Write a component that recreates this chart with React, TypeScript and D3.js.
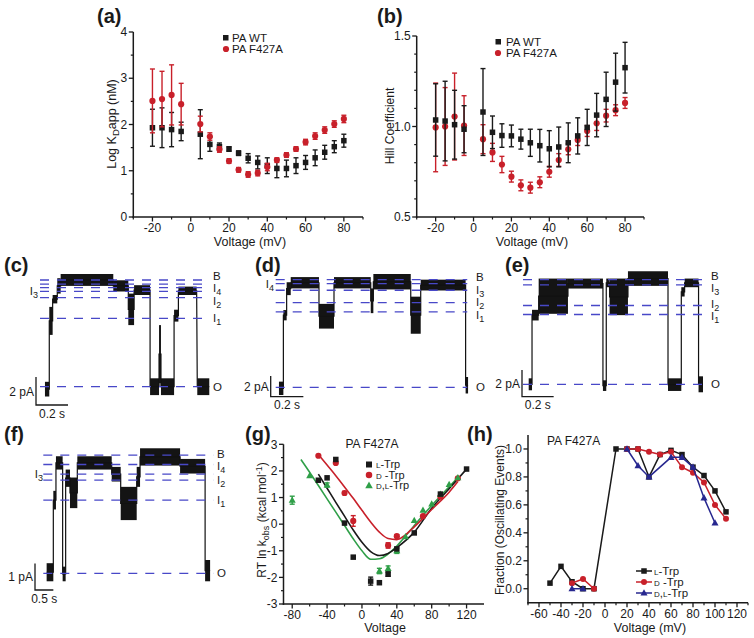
import React from 'react';
import * as d3 from 'd3';

const FONT = '"Liberation Sans", Arial, Helvetica, sans-serif';
const INK = '#1a1a1a';
const RED = '#c8202a';
const GREEN = '#2f9f48';
const NAVY = '#27278f';
const DASH = '#4848c8';

// ---- (a) / (b): voltage dependence, WT vs F427A ----
const voltAB = [-20, -15, -10, -5, 5, 10, 15, 20, 25, 30, 35, 40, 45, 50, 55, 60, 65, 70, 75, 80];
const kdWT = [1.93, 1.93, 1.89, 1.85, 1.79, 1.57, 1.52, 1.47, 1.38, 1.27, 1.18, 1.11, 1.05, 1.05, 1.11, 1.18, 1.28, 1.4, 1.52, 1.65];
const kdWTErr = [0.4, 0.43, 0.37, 0.2, 0.53, 0.15, 0.08, 0.05, 0.05, 0.1, 0.14, 0.17, 0.2, 0.18, 0.17, 0.15, 0.17, 0.15, 0.13, 0.14];
const kdMut = [2.51, 2.55, 2.64, 2.44, 2.01, 1.74, 1.46, 1.21, 1.02, 0.92, 0.95, 1.08, 1.23, 1.34, 1.47, 1.62, 1.75, 1.88, 2.01, 2.12];
const kdMutErr = [0.69, 0.6, 0.65, 0.45, 0.17, 0.08, 0.06, 0.05, 0.05, 0.06, 0.06, 0.08, 0.05, 0.05, 0.05, 0.06, 0.07, 0.07, 0.07, 0.08];
const hillWT = [1.036, 1.03, 1.01, 0.985, 1.08, 0.968, 0.95, 0.948, 0.93, 0.91, 0.894, 0.877, 0.887, 0.91, 0.948, 0.995, 1.063, 1.15, 1.245, 1.325];
const hillWTErr = [0.2, 0.22, 0.19, 0.13, 0.24, 0.09, 0.065, 0.06, 0.055, 0.075, 0.09, 0.1, 0.11, 0.11, 0.1, 0.1, 0.12, 0.15, 0.16, 0.14];
const hillMut = [0.995, 1.0, 1.055, 1.005, 0.93, 0.857, 0.79, 0.723, 0.675, 0.662, 0.692, 0.75, 0.815, 0.874, 0.925, 0.975, 1.018, 1.06, 1.09, 1.13];
const hillMutErr = [0.245, 0.215, 0.24, 0.165, 0.08, 0.05, 0.045, 0.03, 0.03, 0.03, 0.03, 0.03, 0.035, 0.03, 0.03, 0.03, 0.04, 0.035, 0.03, 0.03];

// ---- (c)-(f): single channel traces, segments [t0 (s), t1 (s), low (pA), high (pA)] ----
const traceC = [
  [0.031, 0.058, -0.7, 0.35], [0.058, 0.079, 3.7, 5.7], [0.079, 0.108, 5.95, 6.55], [0.108, 0.129, 6.65, 7.75],
  [0.129, 0.458, 7.2, 8.05], [0.458, 0.552, 6.8, 7.6], [0.552, 0.588, 4.4, 6.65], [0.588, 0.688, 6.55, 7.25],
  [0.688, 0.744, -0.6, 0.6], [0.744, 0.756, 0.25, 4.4], [0.756, 0.838, -0.6, 0.6], [0.838, 0.865, 4.65, 5.5],
  [0.865, 0.979, 6.55, 7.15], [0.983, 1.058, -0.6, 0.6],
];
const levelNamesC = ['B', '', 'I4', 'I3', 'I2', 'I1', 'O'];
const levelsC = [7.62, 7.33, 7.07, 6.81, 6.36, 4.88, 0];

const traceD = [
  [0.02, 0.047, -0.75, 0.55], [0.047, 0.067, 6.5, 7.5], [0.067, 0.092, 8.95, 10.2], [0.092, 0.265, 9.6, 10.7],
  [0.265, 0.357, 5.7, 8.1], [0.357, 0.582, 9.6, 10.7], [0.582, 0.598, 7.2, 9.6], [0.598, 0.827, 9.5, 11.0],
  [0.827, 0.888, 5.2, 8.8], [0.888, 1.163, 9.4, 10.45], [1.163, 1.178, -0.6, 1.0],
];
const levelNamesD = ['B', 'I4', 'I3', 'I2', 'I1', 'O'];
const levelsD = [10.45, 10.06, 9.42, 8.23, 7.32, 0];

const traceE = [
  [0.036, 0.057, -0.45, 0.45], [0.057, 0.099, 4.8, 5.6], [0.099, 0.284, 5.3, 7.95], [0.284, 0.505, 7.2, 7.95],
  [0.505, 0.526, -0.5, 0.3], [0.526, 0.547, 7.3, 7.95], [0.547, 0.663, 5.2, 7.95], [0.663, 0.916, 7.4, 8.5],
  [0.916, 1.0, -0.5, 0.45], [1.0, 1.021, 6.6, 7.3], [1.021, 1.109, 7.3, 7.95], [1.109, 1.137, -0.6, 0.6],
];
const levelNamesE = ['B', 'I3', 'I2', 'I1', 'O'];
const levelsE = [7.875, 7.475, 5.925, 5.25, 0];

const traceF = [
  [0.091, 0.273, -0.3, 0.38], [0.273, 0.345, 2.4, 3.1], [0.345, 0.527, 3.9, 4.4], [0.527, 0.609, -0.3, 0.25],
  [0.609, 0.727, 3.25, 3.9], [0.727, 0.927, 2.45, 3.6], [0.927, 1.864, 3.9, 4.4], [1.864, 2.109, 3.45, 4.0],
  [2.109, 2.545, 2.0, 3.25], [2.545, 2.636, 3.25, 4.0], [2.636, 3.727, 4.05, 4.7], [3.727, 4.409, 3.75, 4.3],
  [4.409, 4.545, -0.3, 0.5],
];
const levelNamesF = ['B', 'I4', 'I3', 'I2', 'I1', 'O'];
const levelsF = [4.44, 4.09, 3.725, 3.5, 2.75, 0];

// ---- (g): RT ln kobs vs voltage ----
const gVoltL = [-50, -40, -30, -20, -10, 10, 20, 30, 40, 60, 90, 120];
const gL = [1.65, 1.74, 2.43, 0.04, -1.24, -2.14, -2.2, -1.88, -0.93, -0.33, 1.13, 2.07];
const gLErr = [0, 0, 0, 0, 0, 0.15, 0, 0.08, 0, 0, 0, 0];
const gVoltD = [-50, -30, -20, -10, 30, 40, 70, 90, 110];
const gD = [2.57, 2.3, 1.17, 0.12, -0.8, -0.45, 0.3, 1.03, 1.72];
const gDErr = [0, 0, 0.06, 0.2, 0.1, 0.05, 0, 0, 0];
const gVoltDL = [-80, -60, -40, 20, 30, 40, 50, 60, 70, 80, 90, 100, 110];
const gDL = [0.9, 1.82, 1.47, -1.76, -1.67, -1.0, -0.47, 0.14, 0.52, 0.76, 1.12, 1.49, 1.74];
const gDLErr = [0.15, 0, 0.08, 0.1, 0.1, 0.1, 0, 0, 0, 0, 0, 0, 0];
const fitLV = [-50, -40, -30, -20, -10, 0, 10, 20, 30, 40, 60, 80, 100, 120];
const fitL = [1.88, 1.35, 0.82, 0.3, -0.22, -0.68, -1.03, -1.18, -1.1, -0.88, -0.3, 0.6, 1.33, 2.07];
const fitDV = [-50, -40, -30, -20, -10, 0, 10, 20, 30, 40, 50, 60, 80, 100, 110];
const fitD = [2.62, 2.22, 1.82, 1.4, 0.97, 0.52, 0.08, -0.3, -0.54, -0.58, -0.4, -0.1, 0.55, 1.2, 1.6];
const fitDLV = [-70, -60, -50, -40, -30, -20, -10, 0, 10, 20, 30, 40, 60, 80, 100, 110];
const fitDL = [2.43, 1.95, 1.45, 0.95, 0.45, -0.05, -0.55, -1.0, -1.32, -1.3, -1.12, -0.82, -0.05, 0.7, 1.4, 1.75];

// ---- (h): fraction of oscillating events ----
const hVoltL = [-50, -40, -30, -20, -10, 10, 20, 30, 40, 50, 60, 70, 80, 90, 100, 110];
const hL = [0.04, 0.16, 0.05, 0.0, 0.0, 1.0, 1.0, 1.0, 0.8, 0.96, 0.99, 0.96, 0.87, 0.81, 0.7, 0.55];
const hVoltD = [-30, -20, -10, 20, 30, 40, 50, 60, 70, 80, 90, 100, 110];
const hD = [0.04, 0.07, 0.0, 1.0, 1.0, 0.98, 0.96, 0.98, 0.87, 0.83, 0.76, 0.6, 0.5];
const hVoltDL = [-30, -20, 20, 30, 40, 60, 70, 80, 90, 100];
const hDL = [0.0, 0.0, 1.0, 0.88, 0.8, 0.94, 0.94, 0.87, 0.65, 0.47];

function range(a: number, b: number, step: number) {
  return d3.range(a, b + step / 2, step).map(v => +v.toFixed(4));
}

// push label centres apart so that no two are closer than gap
function spread(ys: number[], gap: number) {
  const out = ys.slice();
  const idx = ys.map((_, i) => i).sort((a, b) => ys[a] - ys[b]);
  for (let it = 0; it < 60; it++) {
    for (let k = 1; k < idx.length; k++) {
      const a = idx[k - 1];
      const b = idx[k];
      const d = out[b] - out[a];
      if (d < gap) {
        const s = (gap - d) / 2;
        out[a] -= s;
        out[b] += s;
      }
    }
  }
  return out;
}

function Marker({ shape, x, y, size, color }: any) {
  if (shape === 'square') return <rect x={x - size / 2} y={y - size / 2} width={size} height={size} fill={color} />;
  if (shape === 'circle') return <circle cx={x} cy={y} r={size / 2} fill={color} />;
  const h = size * 0.9;
  return <path d={`M${x},${y - h * 0.6}L${x + size / 2},${y + h * 0.4}L${x - size / 2},${y + h * 0.4}Z`} fill={color} />;
}

function AxisBottom({ scale, y0, majors, minors, fmt }: any) {
  const [r0, r1] = scale.range();
  return (
    <g>
      <line x1={r0 - 0.75} x2={r1} y1={y0} y2={y0} stroke={INK} strokeWidth={1.5} />
      {minors.map((v: number) => (
        <line key={'n' + v} x1={scale(v)} x2={scale(v)} y1={y0} y2={y0 + 2.5} stroke={INK} strokeWidth={1.2} />
      ))}
      {majors.map((v: number) => (
        <g key={'m' + v}>
          <line x1={scale(v)} x2={scale(v)} y1={y0} y2={y0 + 4.5} stroke={INK} strokeWidth={1.3} />
          <text x={scale(v)} y={y0 + 15} textAnchor="middle" fontSize={12}>{fmt ? fmt(v) : String(v)}</text>
        </g>
      ))}
    </g>
  );
}

function AxisLeft({ scale, x0, majors, minors, fmt }: any) {
  const [r0, r1] = scale.range();
  return (
    <g>
      <line x1={x0} x2={x0} y1={r0 + 0.75} y2={r1} stroke={INK} strokeWidth={1.5} />
      {minors.map((v: number) => (
        <line key={'n' + v} x1={x0} x2={x0 - 2.5} y1={scale(v)} y2={scale(v)} stroke={INK} strokeWidth={1.2} />
      ))}
      {majors.map((v: number) => (
        <g key={'m' + v}>
          <line x1={x0} x2={x0 - 4.5} y1={scale(v)} y2={scale(v)} stroke={INK} strokeWidth={1.3} />
          <text x={x0 - 6} y={scale(v) + 4.2} textAnchor="end" fontSize={12}>{fmt ? fmt(v) : String(v)}</text>
        </g>
      ))}
    </g>
  );
}

function Points({ xs, ys, errs, x, y, shape, color, size }: any) {
  return (
    <g>
      {xs.map((v: number, i: number) => {
        const cx = x(v);
        const cy = y(ys[i]);
        const e = errs ? errs[i] : 0;
        return (
          <g key={i}>
            {e > 0 && (
              <g stroke={color} strokeWidth={1.4}>
                <line x1={cx} x2={cx} y1={y(ys[i] - e)} y2={y(ys[i] + e)} />
                <line x1={cx - 2.5} x2={cx + 2.5} y1={y(ys[i] - e)} y2={y(ys[i] - e)} />
                <line x1={cx - 2.5} x2={cx + 2.5} y1={y(ys[i] + e)} y2={y(ys[i] + e)} />
              </g>
            )}
            <Marker shape={shape} x={cx} y={cy} size={size} color={color} />
          </g>
        );
      })}
    </g>
  );
}

function LevelLabel({ name, x, y, anchor }: any) {
  if (!name) return null;
  const base = name.charAt(0);
  const sub = name.slice(1);
  return (
    <text x={x} y={y + 4} textAnchor={anchor} fontSize={11.5} fill={INK}>
      {base}
      {sub && <tspan dy={3} fontSize={9}>{sub}</tspan>}
    </text>
  );
}

function TracePanel({ segs, names, levels, leftName, tx, py, dashEnd, rightX, leftX, corner, barPA, barS, pALabel, sLabel }: any) {
  const pts: [number, number][] = [];
  segs.forEach((s: number[]) => {
    const m = (s[2] + s[3]) / 2;
    pts.push([tx(s[0]), py(m)], [tx(s[1]), py(m)]);
  });
  const path = d3.line()(pts) || '';
  const barH = py(0) - py(barPA);
  const barW = tx(barS) - tx(0);
  const [cx, cy] = corner;
  const rightIdx = names.map((n: string, i: number) => i).filter((i: number) => names[i] && names[i] !== leftName);
  const rightY = spread(rightIdx.map((i: number) => py(levels[i])), 12.5);
  return (
    <g>
      {segs.map((s: number[], i: number) => (
        <rect key={i} x={tx(s[0])} y={py(s[3])} width={Math.max(0.9, tx(s[1]) - tx(s[0]))} height={py(s[2]) - py(s[3])} fill="#141414" />
      ))}
      <path d={path} fill="none" stroke="#111" strokeWidth={1.2} />
      {levels.map((l: number, i: number) => (
        <line key={i} x1={tx(0)} x2={tx(dashEnd)} y1={py(l)} y2={py(l)} stroke={DASH} strokeWidth={1.3} strokeDasharray="9,8" />
      ))}
      {rightIdx.map((i: number, k: number) => (
        <LevelLabel key={'r' + i} name={names[i]} x={rightX} y={rightY[k]} anchor="start" />
      ))}
      {names.map((n: string, i: number) =>
        n && n === leftName ? <LevelLabel key={'l' + i} name={n} x={leftX} y={py(levels[i])} anchor="end" /> : null
      )}
      <path d={`M${cx},${cy - barH}V${cy}H${cx + barW}`} fill="none" stroke={INK} strokeWidth={1.3} />
      <text x={cx - 2} y={cy - barH / 2 + 4.5} textAnchor="end" fontSize={12}>{pALabel}</text>
      <text x={cx + barW / 2} y={cy + 12.5} textAnchor="middle" fontSize={12}>{sLabel}</text>
    </g>
  );
}

function splitRuns(xs: number[], ys: number[], maxGap: number) {
  const runs: [number, number][][] = [];
  let cur: [number, number][] = [];
  xs.forEach((v, i) => {
    if (i > 0 && v - xs[i - 1] > maxGap) {
      runs.push(cur);
      cur = [];
    }
    cur.push([v, ys[i]]);
  });
  runs.push(cur);
  return runs;
}

export default function App() {
  const xa = d3.scaleLinear().domain([-30, 90]).range([133.3, 363]);
  const ya = d3.scaleLinear().domain([0, 4]).range([217, 32]);
  const xb = d3.scaleLinear().domain([-30, 90]).range([416.7, 644]);
  const yb = d3.scaleLinear().domain([0.5, 1.5]).range([217, 36]);
  const xg = d3.scaleLinear().domain([-90, 140]).range([283.5, 484]);
  const yg = d3.scaleLinear().domain([-3, 3]).range([604, 444.3]);
  const xh = d3.scaleLinear().domain([-70, 130]).range([528, 748]);
  const yh = d3.scaleLinear().domain([-0.1, 1.1]).range([602.7, 435]);

  const abMajX = range(-20, 80, 20);
  const abMinX = range(-30, 90, 10).filter(v => !abMajX.includes(v));

  const fitLine = (xs: number[], ys: number[]) =>
    d3.line<number>().x(v => xg(v)).y((v, i) => yg(ys[i])).curve(d3.curveMonotoneX)(xs) || '';

  const hLine = d3.line<[number, number]>().x(d => xh(d[0])).y(d => yh(d[1]));
  const hSeries = [
    { xs: hVoltL, ys: hL, color: INK, shape: 'square', size: 5.5 },
    { xs: hVoltD, ys: hD, color: RED, shape: 'circle', size: 6 },
    { xs: hVoltDL, ys: hDL, color: NAVY, shape: 'triangle', size: 7 },
  ];
  const gLegend = [
    { shape: 'square', color: INK, size: 6, pre: 'l', post: '-Trp' },
    { shape: 'circle', color: RED, size: 6.5, pre: 'd', post: ' -Trp' },
    { shape: 'triangle', color: GREEN, size: 7.5, pre: 'd,l', post: '-Trp' },
  ];

  return (
    <svg width={754} height={638} style={{ position: 'absolute', left: 0, top: 0, background: '#fff' }} fontFamily={FONT} fill={INK}>
      {/* panel letters */}
      {[['(a)', 97, 23], ['(b)', 377, 23], ['(c)', 4, 272], ['(d)', 255, 272], ['(e)', 505, 272], ['(f)', 4, 441], ['(g)', 245, 441], ['(h)', 467, 441]].map(([t, x, y]) => (
        <text key={t as string} x={x as number} y={y as number} fontSize={20} fontWeight="bold">{t}</text>
      ))}

      {/* (a) */}
      <AxisBottom scale={xa} y0={217} majors={abMajX} minors={abMinX} />
      <AxisLeft scale={ya} x0={133.3} majors={range(0, 4, 1)} minors={range(0.5, 3.5, 1)} />
      <Points xs={voltAB} ys={kdWT} errs={kdWTErr} x={xa} y={ya} shape="square" color={INK} size={5.5} />
      <Points xs={voltAB} ys={kdMut} errs={kdMutErr} x={xa} y={ya} shape="circle" color={RED} size={6.2} />
      <rect x={223} y={35} width={5.5} height={5.5} fill={INK} />
      <text x={232} y={41.5} fontSize={11.5}>PA WT</text>
      <circle cx={226} cy={49} r={3.1} fill={RED} />
      <text x={232} y={53} fontSize={11.5}>PA F427A</text>
      <text transform="translate(116,124) rotate(-90)" textAnchor="middle" fontSize={12.5}>
        Log K<tspan dy={3} fontSize={9.5}>D</tspan><tspan dy={-3}>app (nM)</tspan>
      </text>
      <text x={250} y={246} textAnchor="middle" fontSize={12.5}>Voltage (mV)</text>

      {/* (b) */}
      <AxisBottom scale={xb} y0={217} majors={abMajX} minors={abMinX} />
      <AxisLeft scale={yb} x0={416.7} majors={[0.5, 1.0, 1.5]} minors={range(0.6, 1.4, 0.1).filter(v => v !== 1)} fmt={(v: number) => v.toFixed(1)} />
      <Points xs={voltAB} ys={hillMut} errs={hillMutErr} x={xb} y={yb} shape="circle" color={RED} size={6.2} />
      <Points xs={voltAB} ys={hillWT} errs={hillWTErr} x={xb} y={yb} shape="square" color={INK} size={5.5} />
      <rect x={495.5} y={39} width={5.5} height={5.5} fill={INK} />
      <text x={506} y={45.5} fontSize={11.5}>PA WT</text>
      <circle cx={498} cy={53} r={3.1} fill={RED} />
      <text x={506} y={57} fontSize={11.5}>PA F427A</text>
      <text transform="translate(394,126) rotate(-90)" textAnchor="middle" fontSize={12}>Hill Coefficient</text>
      <text x={532} y={246} textAnchor="middle" fontSize={12.5}>Voltage (mV)</text>

      {/* (c)-(f) traces */}
      <TracePanel segs={traceC} names={levelNamesC} levels={levelsC} leftName="I3"
        tx={d3.scaleLinear().domain([0, 1]).range([40, 200])} py={d3.scaleLinear().domain([0, 1]).range([386.7, 372.7])}
        dashEnd={1.052} rightX={213} leftX={38} corner={[36, 405]} barPA={2} barS={0.2} pALabel="2 pA" sLabel="0.2 s" />
      <TracePanel segs={traceD} names={levelNamesD} levels={levelsD} leftName="I4"
        tx={d3.scaleLinear().domain([0, 1]).range([275.7, 439])} py={d3.scaleLinear().domain([0, 1]).range([387.3, 377])}
        dashEnd={1.173} rightX={476} leftX={274} corner={[270.7, 396.7]} barPA={2} barS={0.2} pALabel="2 pA" sLabel="0.2 s" />
      <TracePanel segs={traceE} names={levelNamesE} levels={levelsE} leftName=""
        tx={d3.scaleLinear().domain([0, 1]).range([523, 681.3])} py={d3.scaleLinear().domain([0, 1]).range([384.3, 371])}
        dashEnd={1.168} rightX={711} leftX={0} corner={[522, 396.7]} barPA={2} barS={0.2} pALabel="2 pA" sLabel="0.2 s" />
      <TracePanel segs={traceF} names={levelNamesF} levels={levelsF} leftName="I3"
        tx={d3.scaleLinear().domain([0, 1]).range([43.3, 80])} py={d3.scaleLinear().domain([0, 1]).range([573.3, 546.7])}
        dashEnd={4.636} rightX={217} leftX={43} corner={[35, 590]} barPA={1} barS={0.5} pALabel="1 pA" sLabel="0.5 s" />

      {/* (g) */}
      <AxisBottom scale={xg} y0={604} majors={range(-80, 120, 40)} minors={range(-60, 100, 40)} />
      <AxisLeft scale={yg} x0={283.5} majors={range(-3, 3, 1)} minors={range(-2.5, 2.5, 1)} />
      <path d={fitLine(fitDLV, fitDL)} fill="none" stroke={GREEN} strokeWidth={1.6} />
      <path d={fitLine(fitLV, fitL)} fill="none" stroke={INK} strokeWidth={1.6} />
      <path d={fitLine(fitDV, fitD)} fill="none" stroke={RED} strokeWidth={1.6} />
      <Points xs={gVoltD} ys={gD} errs={gDErr} x={xg} y={yg} shape="circle" color={RED} size={6.2} />
      <Points xs={gVoltDL} ys={gDL} errs={gDLErr} x={xg} y={yg} shape="triangle" color={GREEN} size={7} />
      <Points xs={gVoltL} ys={gL} errs={gLErr} x={xg} y={yg} shape="square" color={INK} size={5.5} />
      <text x={372} y={448} textAnchor="middle" fontSize={12}>PA F427A</text>
      {gLegend.map((l, i) => (
        <g key={i}>
          <Marker shape={l.shape} x={369} y={464.5 + i * 10.5} size={l.size} color={l.color} />
          <text x={376} y={468.3 + i * 10.5} fontSize={11}>
            <tspan style={{ fontVariant: 'small-caps' }}>{l.pre}</tspan>{l.post}
          </text>
        </g>
      ))}
      <text transform="translate(266,520) rotate(-90)" textAnchor="middle" fontSize={12}>
        RT ln k<tspan dy={3} fontSize={9}>obs</tspan><tspan dy={-3}> (kcal mol</tspan><tspan dy={-4} fontSize={9}>-1</tspan><tspan dy={4}>)</tspan>
      </text>
      <text x={385} y={632} textAnchor="middle" fontSize={12.5}>Voltage</text>

      {/* (h) */}
      <AxisBottom scale={xh} y0={602.7} majors={range(-60, 120, 20)} minors={range(-70, 130, 20)} />
      <AxisLeft scale={yh} x0={528} majors={range(0, 1, 0.2)} minors={range(0.1, 0.9, 0.2)} fmt={(v: number) => v.toFixed(1)} />
      {hSeries.map((s, k) => (
        <g key={k}>
          {splitRuns(s.xs, s.ys, 20).map((run, j) => (
            <path key={j} d={hLine(run) || ''} fill="none" stroke={s.color} strokeWidth={1.5} />
          ))}
          <Points xs={s.xs} ys={s.ys} x={xh} y={yh} shape={s.shape} color={s.color} size={s.size} />
        </g>
      ))}
      <text x={547} y={445} fontSize={12}>PA F427A</text>
      {hSeries.map((s, i) => (
        <g key={i}>
          <line x1={636} x2={652} y1={571 + i * 11} y2={571 + i * 11} stroke={s.color} strokeWidth={1.5} />
          <Marker shape={s.shape} x={644} y={571 + i * 11} size={s.size} color={s.color} />
          <text x={654} y={575 + i * 11} fontSize={11.5}>
            <tspan style={{ fontVariant: 'small-caps' }}>{gLegend[i].pre}</tspan>{gLegend[i].post}
          </text>
        </g>
      ))}
      <text transform="translate(504,520) rotate(-90)" textAnchor="middle" fontSize={12}>Fraction (Oscillating Events)</text>
      <text x={650} y={632} textAnchor="middle" fontSize={12.5}>Voltage (mV)</text>
    </svg>
  );
}
